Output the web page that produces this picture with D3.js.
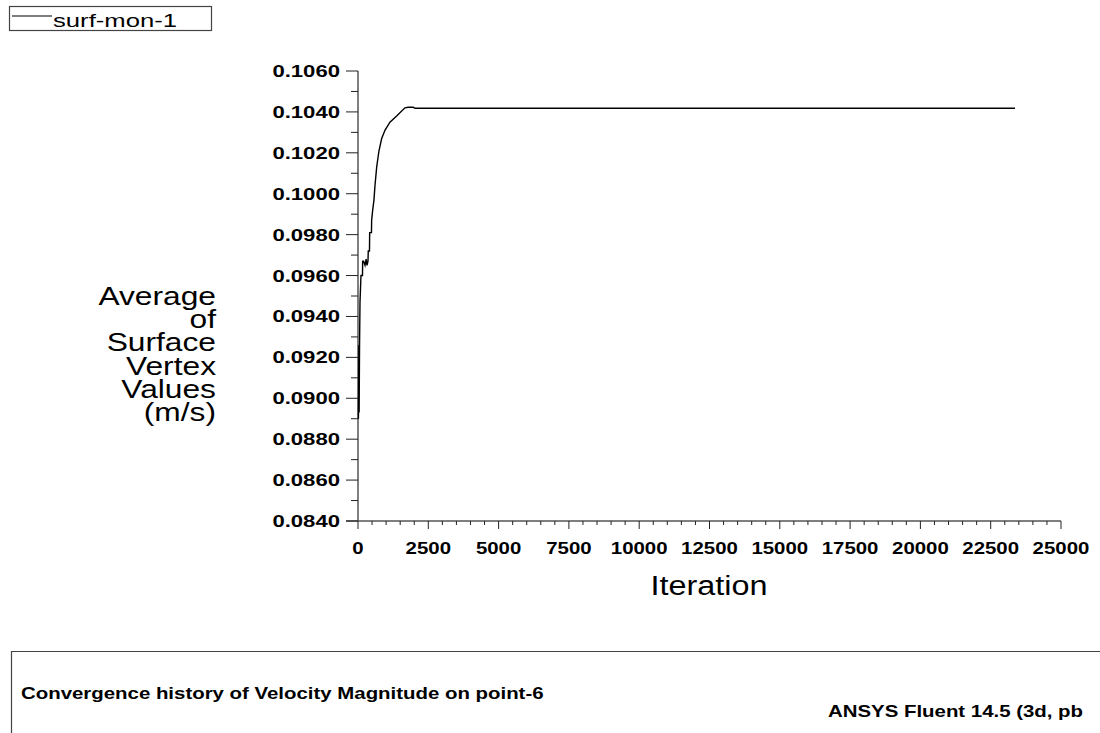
<!DOCTYPE html>
<html>
<head>
<meta charset="utf-8">
<script src="https://cdn.jsdelivr.net/npm/d3@7"></script>
<style>
  html, body { margin: 0; padding: 0; background: #fff; }
  svg { display: block; font-family: "Liberation Sans", Arial, sans-serif; }
</style>
</head>
<body>
<svg id="chart" width="1100" height="733"></svg>
<script>
// Monitor history: iteration number and area-weighted velocity (m/s)
const iterations = [15, 30, 40, 55, 71, 106, 160, 165, 200, 250, 290, 320, 355, 365, 408, 415, 479, 485, 522, 568, 604, 664, 746, 842, 959, 1136, 1374, 1669, 1786, 1964, 2024, 23366];
const velocity   = [0.0890, 0.0926, 0.0893, 0.0926, 0.0947, 0.0960, 0.0960, 0.0967, 0.0967, 0.0965, 0.0968, 0.0965, 0.0967, 0.0972, 0.0972, 0.0981, 0.0981, 0.0987, 0.0992, 0.0997, 0.1004, 0.1013, 0.1021, 0.1027, 0.1031, 0.1035, 0.1038, 0.1042, 0.10423, 0.10423, 0.10418, 0.10418];

const seriesName = "surf-mon-1";
const xTicks = [0, 2500, 5000, 7500, 10000, 12500, 15000, 17500, 20000, 22500, 25000];
const yTicks = [0.0840, 0.0860, 0.0880, 0.0900, 0.0920, 0.0940, 0.0960, 0.0980, 0.1000, 0.1020, 0.1040, 0.1060];
const yTitleLines = ["Average", "of", "Surface", "Vertex", "Values", "(m/s)"];
const xTitle = "Iteration";
const caption = "Convergence history of Velocity Magnitude on point-6";
const banner = "ANSYS Fluent 14.5 (3d, pb";

const svg = d3.select("#chart");
const axisColor = "#555";
const stretch = 1.2;   // horizontal stretch applied to text runs

function widen(sel, k) {
  sel.each(function () {
    const w = this.getComputedTextLength();
    d3.select(this).attr("textLength", w * k).attr("lengthAdjust", "spacingAndGlyphs");
  });
}

const plot = { left: 358, right: 1061, top: 71, bottom: 521 };

const x = d3.scaleLinear().domain([0, 25000]).range([plot.left, plot.right]);
const y = d3.scaleLinear().domain([0.0840, 0.1060]).range([plot.bottom, plot.top]);

// minor ticks
const xMinor = d3.range(0, 25001, 500);
const yMinor = d3.range(0, 23).map(i => 0.0840 + i * 0.001);

const gx = svg.append("g");
gx.append("line")
  .attr("x1", plot.left - 12).attr("x2", plot.right)
  .attr("y1", plot.bottom).attr("y2", plot.bottom)
  .attr("stroke", axisColor).attr("stroke-width", 1.5);
gx.selectAll("line.minor").data(xMinor).join("line")
  .attr("class", "minor")
  .attr("x1", d => x(d)).attr("x2", d => x(d))
  .attr("y1", plot.bottom).attr("y2", d => plot.bottom + (d % 2500 === 0 ? 8 : 4))
  .attr("stroke", "#222").attr("stroke-width", 1);
gx.selectAll("text").data(xTicks).join("text")
  .attr("x", d => x(d)).attr("y", 554)
  .attr("text-anchor", "middle")
  .attr("font-size", 17).attr("font-weight", "bold").attr("fill", "#000")
  .text(d => d)
  .call(widen, stretch);

const gy = svg.append("g");
gy.append("line")
  .attr("x1", plot.left).attr("x2", plot.left)
  .attr("y1", plot.top).attr("y2", plot.bottom)
  .attr("stroke", axisColor).attr("stroke-width", 1.5);
gy.selectAll("line.minor").data(yMinor).join("line")
  .attr("class", "minor")
  .attr("x1", (d, i) => plot.left - (i % 2 === 0 ? 12 : 7)).attr("x2", plot.left)
  .attr("y1", d => y(d)).attr("y2", d => y(d))
  .attr("stroke", "#222").attr("stroke-width", 1);
gy.selectAll("text").data(yTicks).join("text")
  .attr("x", 340).attr("y", d => y(d) + 6)
  .attr("text-anchor", "end")
  .attr("font-size", 17).attr("font-weight", "bold").attr("fill", "#000")
  .text(d => d.toFixed(4))
  .call(widen, 1.3);

// monitor curve
const pts = iterations.map((it, i) => [it, velocity[i]]);
svg.append("path")
  .datum(pts)
  .attr("fill", "none")
  .attr("stroke", "#000")
  .attr("stroke-width", 1.4)
  .attr("d", d3.line().x(d => x(d[0])).y(d => y(d[1])));

// axis titles
svg.append("g").selectAll("text").data(yTitleLines).join("text")
  .attr("x", 216).attr("y", (d, i) => 305 + i * 23.2)
  .attr("text-anchor", "end")
  .attr("font-size", 26).attr("fill", "#000")
  .text(d => d)
  .call(widen, 1.22);

svg.append("text")
  .attr("x", 709).attr("y", 595)
  .attr("text-anchor", "middle")
  .attr("font-size", 27).attr("fill", "#000")
  .text(xTitle)
  .call(widen, 1.2);

// legend
const lg = svg.append("g");
lg.append("rect").attr("x", 9.5).attr("y", 6.5).attr("width", 202).attr("height", 24)
  .attr("fill", "none").attr("stroke", "#444").attr("stroke-width", 1.2);
lg.append("line").attr("x1", 12).attr("x2", 52).attr("y1", 16).attr("y2", 16)
  .attr("stroke", "#000").attr("stroke-width", 1.2);
lg.append("text").attr("x", 53).attr("y", 27)
  .attr("font-size", 18).attr("fill", "#000")
  .text(seriesName)
  .attr("textLength", 124).attr("lengthAdjust", "spacingAndGlyphs");

// caption panel
const cap = svg.append("g");
cap.append("path")
  .attr("d", "M11.5,740 V651.5 H1110")
  .attr("fill", "none").attr("stroke", "#444").attr("stroke-width", 1.2);
cap.append("text").attr("x", 21).attr("y", 699)
  .attr("font-size", 17).attr("font-weight", "bold").attr("fill", "#000")
  .text(caption)
  .call(widen, stretch);
cap.append("text").attr("x", 828).attr("y", 717)
  .attr("font-size", 17).attr("font-weight", "bold").attr("fill", "#000")
  .text(banner)
  .call(widen, stretch);
</script>
</body>
</html>
